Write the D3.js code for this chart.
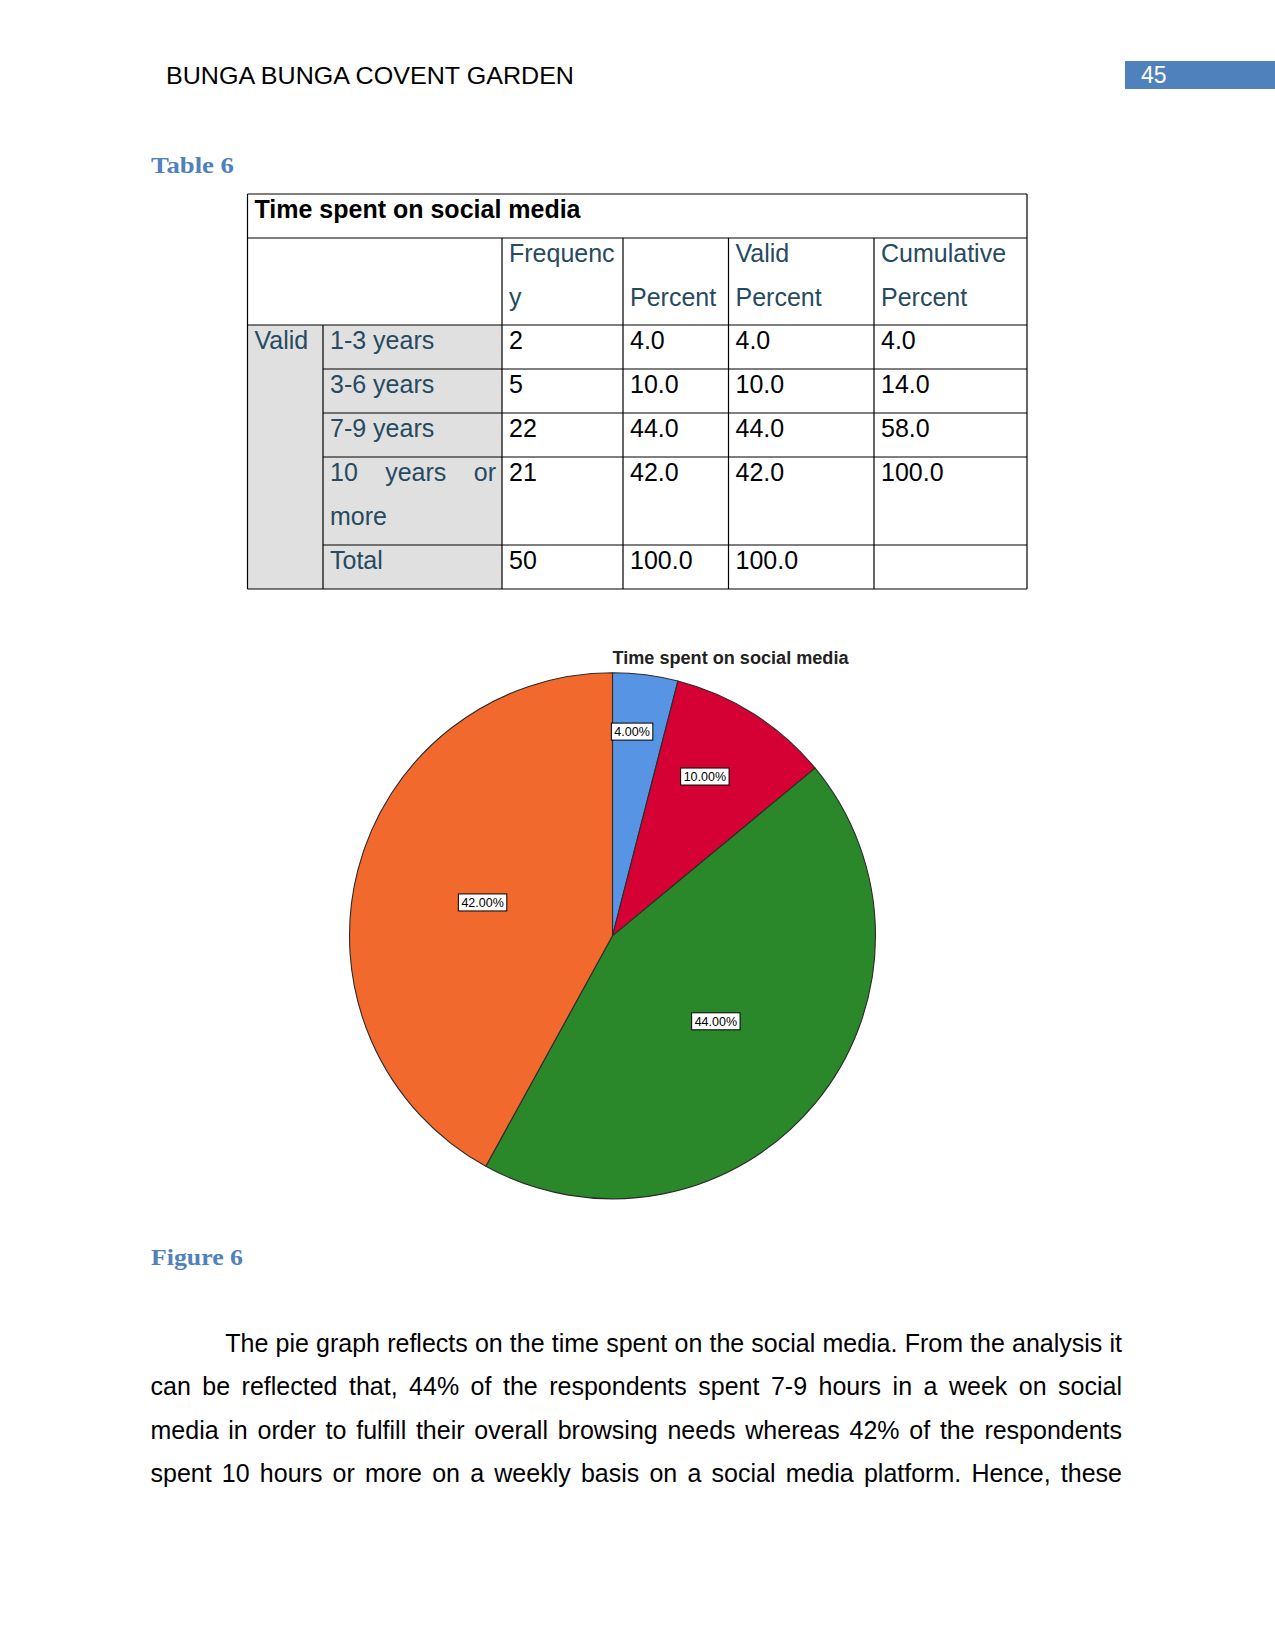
<!DOCTYPE html>
<html>
<head>
<meta charset="utf-8">
<script src="https://cdn.jsdelivr.net/npm/d3@7"></script>
<style>
  html, body { margin: 0; padding: 0; background: #fff; }
  svg { display: block; }
  text { font-family: "Liberation Sans", Arial, sans-serif; }
</style>
</head>
<body>
<script>
// ---------------- DATA ----------------
const chartTitle = "Time spent on social media";
const categories = ["1-3 years", "3-6 years", "7-9 years", "10 years or more"];
const frequency = [2, 5, 22, 21];
const percent = [4.0, 10.0, 44.0, 42.0];
const validPercent = [4.0, 10.0, 44.0, 42.0];
const cumulativePercent = [4.0, 14.0, 58.0, 100.0];
const totals = [50, 100.0, 100.0];
const sliceColors = ["#5894E4", "#D50034", "#2A882A", "#F2692D"];
const bodyLines = [
  "The pie graph reflects on the time spent on the social media. From the analysis it",
  "can be reflected that, 44% of the respondents spent 7-9 hours in a week on social",
  "media in order to fulfill their overall browsing needs whereas 42% of the respondents",
  "spent 10 hours or more on a weekly basis on a social media platform. Hence, these"
];

// ---------------- PAGE ----------------
const W = 1275, H = 1651;
const svg = d3.select("body").append("svg").attr("width", W).attr("height", H);
svg.append("rect").attr("width", W).attr("height", H).attr("fill", "#fff");

function fit(sel, width) {
  sel.attr("textLength", width).attr("lengthAdjust", "spacingAndGlyphs");
  return sel;
}
function justify(g, line, x0, x1, y, size, fill) {
  const words = line.split(/\s+/);
  const nodes = words.map(w => g.append("text").attr("y", y).attr("font-size", size)
    .attr("fill", fill).text(w));
  const widths = nodes.map(n => n.node().getComputedTextLength());
  const sum = d3.sum(widths);
  const gap = words.length > 1 ? (x1 - x0 - sum) / (words.length - 1) : 0;
  let x = x0;
  nodes.forEach((n, i) => { n.attr("x", x); x += widths[i] + gap; });
}

// Header
fit(svg.append("text").attr("x", 166).attr("y", 84).attr("font-size", 24).attr("fill", "#000")
  .text("BUNGA BUNGA COVENT GARDEN"), 408);
svg.append("rect").attr("x", 1125).attr("y", 61).attr("width", 150).attr("height", 28).attr("fill", "#4F81BD");
svg.append("text").attr("x", 1141).attr("y", 83).attr("font-size", 23).attr("fill", "#fff").text("45");

// Table 6 caption
fit(svg.append("text").attr("x", 151).attr("y", 172.5).attr("font-size", 24).attr("font-weight", "bold")
  .style("font-family", "'Liberation Serif', serif").attr("fill", "#4F81BD").text("Table 6"), 83);

// ---------------- TABLE ----------------
const colX = [247.5, 323, 502, 623, 728.5, 874, 1027];
const rowY = [194, 238, 325, 369, 413, 457, 545, 589];
const tg = svg.append("g");
const labelFill = "#264A60", numFill = "#010205", fs = 25, pad = 7;

tg.append("rect").attr("x", colX[0]).attr("y", rowY[2]).attr("width", colX[2] - colX[0])
  .attr("height", rowY[7] - rowY[2]).attr("fill", "#E0E0E0");

const line = (x1, y1, x2, y2) => tg.append("line").attr("x1", x1).attr("y1", y1).attr("x2", x2).attr("y2", y2)
  .attr("stroke", "#000").attr("stroke-width", 1.2);
[rowY[0], rowY[1], rowY[2], rowY[7]].forEach(y => line(colX[0], y, colX[6], y));
[rowY[3], rowY[4], rowY[5], rowY[6]].forEach(y => line(colX[1], y, colX[6], y));
line(colX[0], rowY[0], colX[0], rowY[7]);
line(colX[6], rowY[0], colX[6], rowY[7]);
line(colX[1], rowY[2], colX[1], rowY[7]);
[2, 3, 4, 5].forEach(c => line(colX[c], rowY[1], colX[c], rowY[7]));

tg.append("text").attr("x", colX[0] + pad).attr("y", rowY[0] + 24).attr("font-size", fs)
  .attr("font-weight", "bold").attr("fill", "#000").text(chartTitle);

const hdr = [["Frequenc", "y"], ["", "Percent"], ["Valid", "Percent"], ["Cumulative", "Percent"]];
hdr.forEach((h, i) => {
  h.forEach((t, j) => {
    if (t) tg.append("text").attr("x", colX[i + 2] + pad).attr("y", rowY[1] + 24 + j * 43.5)
      .attr("font-size", fs).attr("fill", labelFill).text(t);
  });
});

tg.append("text").attr("x", colX[0] + pad).attr("y", rowY[2] + 24).attr("font-size", fs)
  .attr("fill", labelFill).text("Valid");

const fmt1 = d3.format(".1f");
const rows = categories.map((c, i) => ({ label: c, vals: [String(frequency[i]), fmt1(percent[i]), fmt1(validPercent[i]), fmt1(cumulativePercent[i])] }));
rows.push({ label: "Total", vals: [String(totals[0]), fmt1(totals[1]), fmt1(totals[2]), ""] });

rows.forEach((r, i) => {
  const y = rowY[i + 2] + 24;
  if (r.label === "10 years or more") {
    justify(tg, "10 years or", colX[1] + pad, colX[2] - 6, y, fs, labelFill);
    tg.append("text").attr("x", colX[1] + pad).attr("y", y + 43.5).attr("font-size", fs)
      .attr("fill", labelFill).text("more");
  } else {
    tg.append("text").attr("x", colX[1] + pad).attr("y", y).attr("font-size", fs)
      .attr("fill", labelFill).text(r.label);
  }
  r.vals.forEach((v, j) => {
    if (v) tg.append("text").attr("x", colX[j + 2] + pad).attr("y", y).attr("font-size", fs)
      .attr("fill", numFill).text(v);
  });
});

// ---------------- PIE ----------------
const cx = 612.5, cy = 935.8, R = 263;
fit(svg.append("text").attr("x", 612.5).attr("y", 664).attr("font-size", 17.5).attr("font-weight", "bold")
  .attr("fill", "#222").text(chartTitle), 236);

const pg = svg.append("g").attr("transform", `translate(${cx},${cy})`);
const arcs = d3.pie().sort(null).value(d => d)(percent);
const arc = d3.arc().innerRadius(0).outerRadius(R);
pg.selectAll("path.slice").data(arcs).join("path").attr("class", "slice")
  .attr("d", arc).attr("fill", (d, i) => sliceColors[i])
  .attr("stroke", "#2b2b2b").attr("stroke-width", 1.1).attr("stroke-linejoin", "round");

const total = d3.sum(percent);
const fmtPct = v => d3.format(".2f")(v) + "%";
arcs.forEach((d, i) => {
  const f = d.value / total;
  const k = f < 0.06 ? 0.78 : (f < 0.15 ? 0.70 : 0.51);
  const shift = f < 0.06 ? -0.03 : (f < 0.15 ? -0.04 : 0);
  const la = d3.arc().innerRadius(R * k).outerRadius(R * k);
  const [x, y] = la.centroid({ startAngle: d.startAngle + shift, endAngle: d.endAngle + shift });
  const t = pg.append("text").attr("font-size", 12.5).attr("fill", "#000").attr("text-anchor", "middle")
    .attr("x", x).attr("y", y + 4.5).text(fmtPct(d.value));
  const w = t.node().getComputedTextLength() + 6;
  pg.insert("rect", () => t.node()).attr("x", x - w / 2).attr("y", y - 8.5).attr("width", w).attr("height", 17)
    .attr("fill", "#fff").attr("stroke", "#000").attr("stroke-width", 1);
});

// Figure 6 caption
fit(svg.append("text").attr("x", 151).attr("y", 1265).attr("font-size", 24).attr("font-weight", "bold")
  .style("font-family", "'Liberation Serif', serif").attr("fill", "#4F81BD").text("Figure 6"), 92);

// ---------------- BODY TEXT ----------------
const bg = svg.append("g");
const baseY = [1352, 1395.3, 1438.6, 1481.9];
bodyLines.forEach((l, i) => {
  justify(bg, l, i === 0 ? 225.3 : 150.5, 1122, baseY[i], 25, "#000");
});
</script>
</body>
</html>
